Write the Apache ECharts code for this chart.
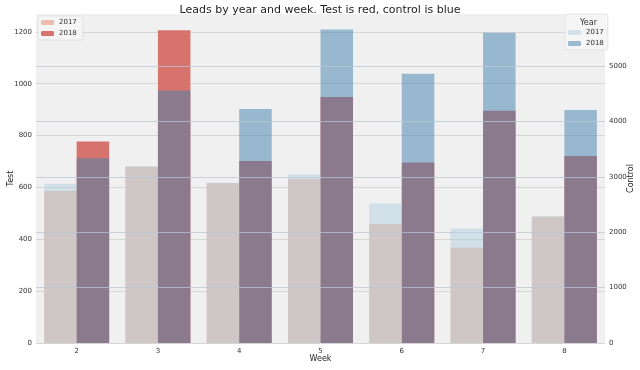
<!DOCTYPE html>
<html>
<head>
<meta charset="utf-8">
<script src="https://cdn.jsdelivr.net/npm/echarts@6/dist/echarts.min.js"></script>
<style>html,body{margin:0;padding:0;background:#fff;}#c{width:640px;height:370px;}</style>
</head>
<body>
<div id="c"></div>
<script>
const weeks = ['2','3','4','5','6','7','8'];
const test2017 = [586, 680, 616, 633, 459, 367, 487];
const test2018 = [777, 1206, 702, 949, 696, 896, 721];
const control2017 = [2874, 3191, 2892, 3042, 2518, 2067, 2289];
const control2018 = [3336, 4558, 4227, 5659, 4859, 5600, 4209];

const FONT = 'DejaVu Sans';
const chart = echarts.init(document.getElementById('c'), null, {renderer: 'canvas'});
const lbl = {fontFamily: FONT, fontSize: 7, color: '#333', formatter: v => String(v)};
chart.setOption({
  backgroundColor: '#fff',
  animation: false,
  textStyle: {fontFamily: FONT},
  title: [
    {text: 'Leads by year and week. Test is red, control is blue', left: 'center', top: 0,
     textStyle: {fontFamily: FONT, fontSize: 11, fontWeight: 'normal', color: '#222'}},
    {text: 'Year', left: 575, top: 14, textStyle: {fontFamily: FONT, fontSize: 8, fontWeight: 'normal', color: '#333'}, z: 10}
  ],
  grid: {left: 36, right: 35, top: 14, bottom: 27, show: true, backgroundColor: '#f0f0f0', borderWidth: 0,
         containLabel: false, outerBoundsMode: 'none'},
  legend: [
    {data: ['Test 2017', 'Test 2018'], orient: 'vertical', left: 38, top: 16,
     itemWidth: 13, itemHeight: 5, itemGap: 4, padding: [3, 6, 3, 3],
     backgroundColor: 'rgba(245,245,245,0.9)', borderColor: '#dedede', borderWidth: 0.8, borderRadius: 2,
     formatter: n => n.split(' ')[1], textStyle: {fontFamily: FONT, fontSize: 7, color: '#333'}},
    {data: ['Control 2017', 'Control 2018'], orient: 'vertical', left: 565, top: 14,
     itemWidth: 13, itemHeight: 5, itemGap: 4, padding: [15, 4, 3, 3],
     backgroundColor: 'rgba(245,245,245,0.9)', borderColor: '#dedede', borderWidth: 0.8, borderRadius: 2,
     formatter: n => n.split(' ')[1], textStyle: {fontFamily: FONT, fontSize: 7, color: '#333'}}
  ],
  xAxis: [
    {type: 'category', data: weeks, name: 'Week', nameLocation: 'middle', nameGap: 12, nameMoveOverlap: false,
     nameTextStyle: {fontFamily: FONT, fontSize: 8, color: '#222'},
     axisLine: {show: false}, axisTick: {show: false}, axisLabel: {fontFamily: FONT, fontSize: 7, color: '#333', margin: 5}, splitLine: {show: false}},
    {type: 'category', data: weeks, show: false, position: 'bottom'}
  ],
  yAxis: [
    {type: 'value', min: 0, max: 1269, interval: 200, name: 'Test', nameLocation: 'middle', nameGap: 21, nameMoveOverlap: false,
     nameTextStyle: {fontFamily: FONT, fontSize: 8, color: '#222'},
     axisLine: {show: false}, axisTick: {show: false}, axisLabel: Object.assign({margin: 4, showMaxLabel: false}, lbl),
     splitLine: {showMaxLine: false, lineStyle: {color: '#d6d6d6', width: 1}}},
    {type: 'value', min: 0, max: 5940, interval: 1000, name: 'Control', nameLocation: 'middle', nameGap: 22, nameMoveOverlap: false,
     nameTextStyle: {fontFamily: FONT, fontSize: 8, color: '#222'}, z: 5,
     axisLine: {show: false}, axisTick: {show: false}, axisLabel: Object.assign({margin: 4, showMaxLabel: false}, lbl),
     splitLine: {showMaxLine: false, showMinLine: false, lineStyle: {color: 'rgba(185,198,215,0.75)', width: 1}}}
  ],
  series: [
    {name: 'Test 2017', type: 'bar', xAxisIndex: 0, yAxisIndex: 0, data: test2017, barWidth: '40%', barGap: '0%', z: 2,
     itemStyle: {color: 'rgb(236,188,172)'}},
    {name: 'Test 2018', type: 'bar', xAxisIndex: 0, yAxisIndex: 0, data: test2018, barWidth: '40%', barGap: '0%', z: 2,
     itemStyle: {color: 'rgb(215,115,109)'}},
    {name: 'Control 2017', type: 'bar', xAxisIndex: 1, yAxisIndex: 1, data: control2017, barWidth: '40%', barGap: '0%', z: 3,
     itemStyle: {color: 'rgba(178,208,224,0.5)'}},
    {name: 'Control 2018', type: 'bar', xAxisIndex: 1, yAxisIndex: 1, data: control2018, barWidth: '40%', barGap: '0%', z: 3,
     itemStyle: {color: 'rgba(64,128,176,0.5)'}}
  ]
});
</script>
</body>
</html>
